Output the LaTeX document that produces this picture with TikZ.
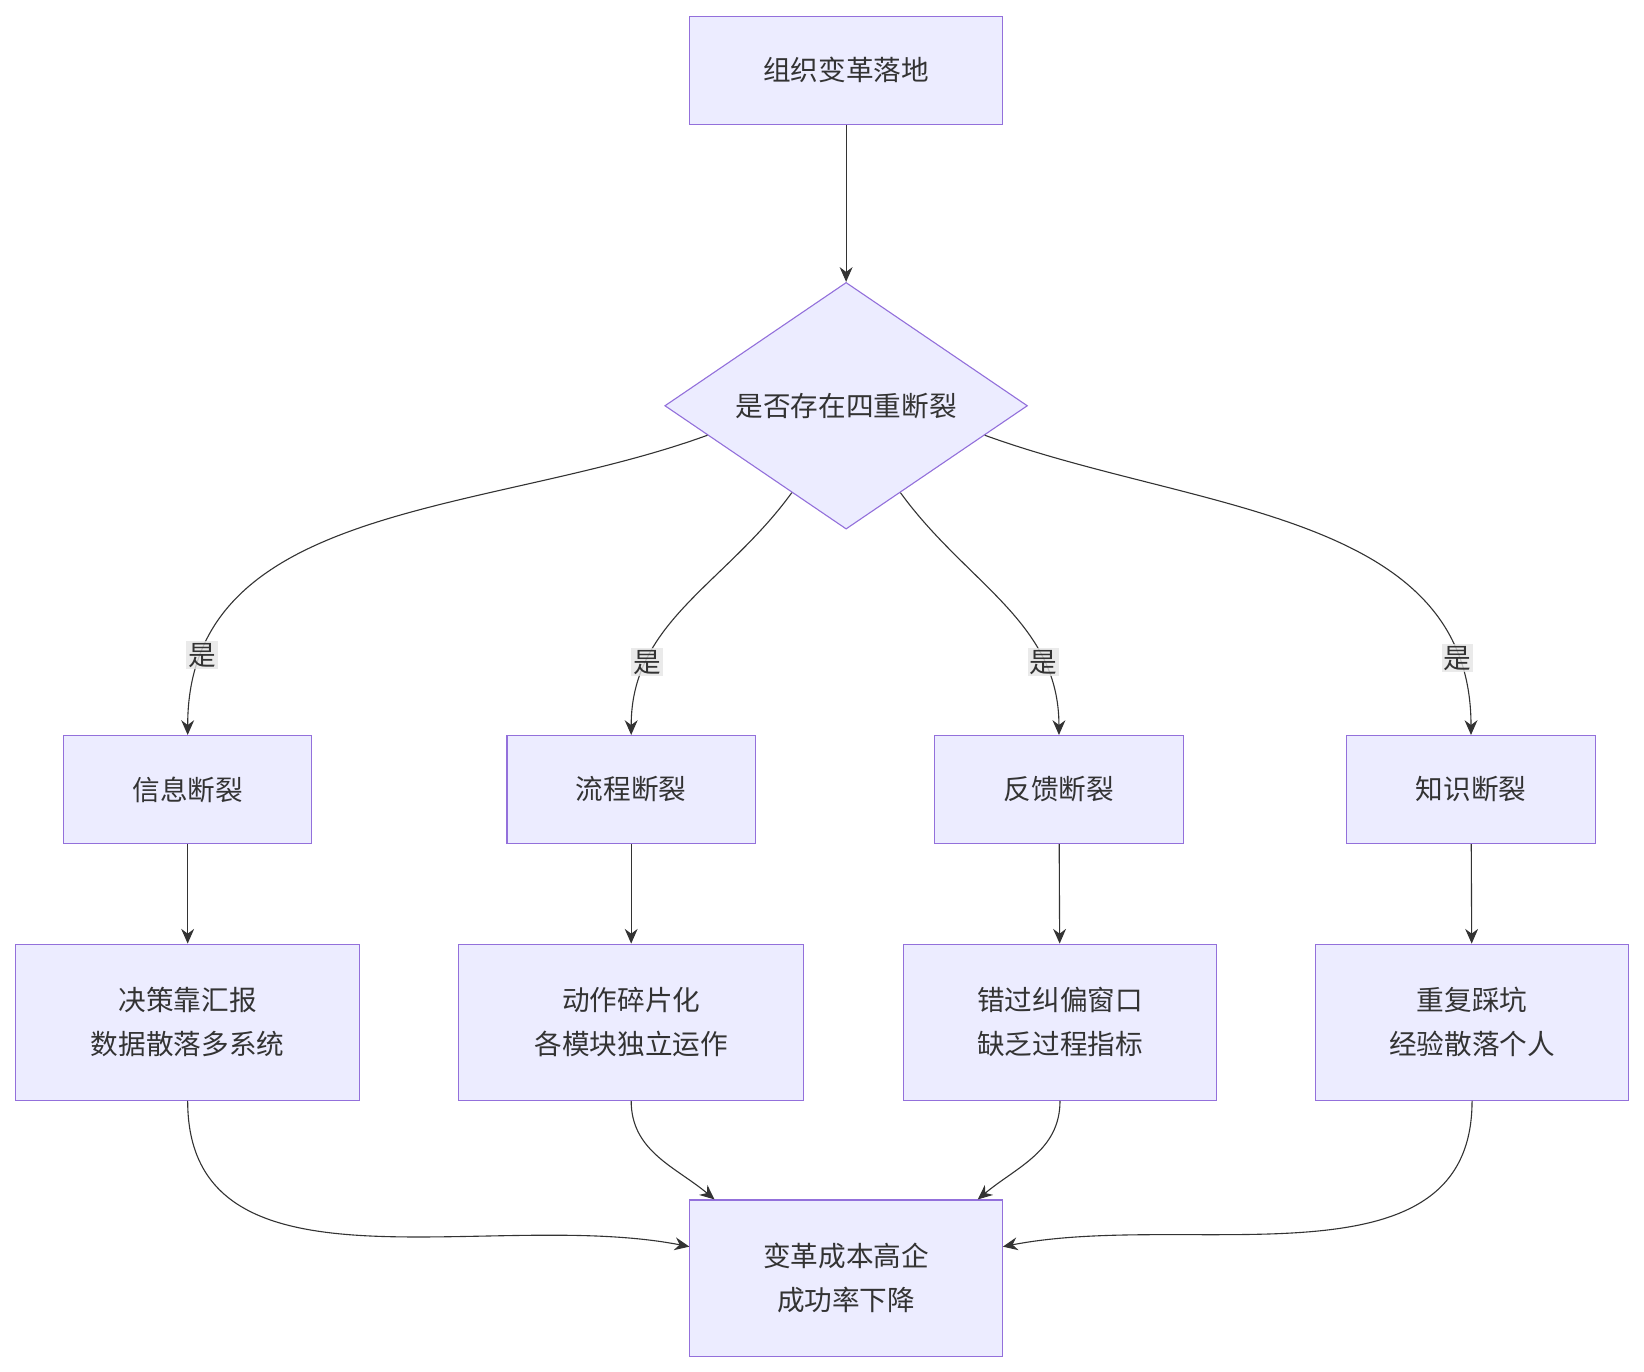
\documentclass[tikz,border=0pt]{standalone}
\usepackage{fontspec}
\setmainfont{Noto Sans CJK SC}
\usetikzlibrary{shapes.geometric,positioning,arrows.meta}
\definecolor{boxfill}{HTML}{ECECFF}
\definecolor{boxline}{HTML}{9370DB}
\definecolor{edge}{HTML}{333333}
\tikzset{
  box/.style = {draw = boxline, fill = boxfill, line width = 0.6pt, shape = rectangle, align = center, font = \fontsize{15}{24}\selectfont, text = edge},
  dia/.style = {draw = boxline, fill = boxfill, line width = 0.6pt, shape = diamond, aspect = 1, inner sep = 0pt, minimum width = 6.92cm, font = \fontsize{15}{24}\selectfont, text = edge},
  arr/.style = {draw = edge, line width = 0.6pt, -{Stealth[length = 8pt, width = 7pt]}},
  lbl/.style = {fill = gray!20, fill opacity = 0.8, text opacity = 1, inner sep = 1pt, font = \fontsize{15}{18}\selectfont, text = edge}
}
\begin{document}
\begin{tikzpicture}[x = 0.02cm, y = -0.02cm]
\useasboundingbox (0,0) rectangle (1568,1308);
% top and decision
\node[box, minimum width = 5.96cm, minimum height = 2.06cm] (start) at (807,67) {组织变革落地};
\node[dia] (check) at (807,387) {是否存在四重断裂};
% four breaks
\foreach \name/\x/\txt in {info/179/信息断裂, flow/602/流程断裂, feed/1010/反馈断裂, know/1403/知识断裂}
  \node[box, minimum width = 4.74cm, minimum height = 2.06cm] (\name) at (\x,753) {\txt};
% consequences
\node[box, minimum width = 6.56cm, minimum height = 2.98cm] (infoc) at (179,975) {决策靠汇报\\数据散落多系统};
\node[box, minimum width = 6.58cm, minimum height = 2.98cm] (flowc) at (602,975) {动作碎片化\\各模块独立运作};
\node[box, minimum width = 5.96cm, minimum height = 2.98cm] (feedc) at (1011,975) {错过纠偏窗口\\缺乏过程指标};
\node[box, minimum width = 5.96cm, minimum height = 2.98cm] (knowc) at (1404,975) {重复踩坑\\经验散落个人};
\node[box, minimum width = 5.96cm, minimum height = 2.98cm] (result) at (807,1219) {变革成本高企\\成功率下降};
% connectors
\draw[arr] (start) -- (check);
\draw[arr] (check.192) to[out = 200, in = 90] node[lbl, pos = 0.87] {是} (info);
\draw[arr] (check.238) to[out = 234, in = 90] node[lbl, pos = 0.75] {是} (flow);
\draw[arr] (check.302) to[out = 306, in = 90] node[lbl, pos = 0.75] {是} (feed);
\draw[arr] (check.348) to[out = 340, in = 90] node[lbl, pos = 0.87] {是} (know);
\foreach \a in {info, flow, feed, know}
  \draw[arr] (\a) -- (\a c);
\draw[arr] (infoc.south) to[out = -90, in = 169] ([yshift = 0.6cm]result.west);
\draw[arr] (flowc.south) to[out = -90, in = 140] ([xshift = 0.48cm]result.north west);
\draw[arr] (feedc.south) to[out = -90, in = 40] ([xshift = -0.48cm]result.north east);
\draw[arr] (knowc.south) to[out = -90, in = 11] ([yshift = 0.6cm]result.east);
\end{tikzpicture}
\end{document}
